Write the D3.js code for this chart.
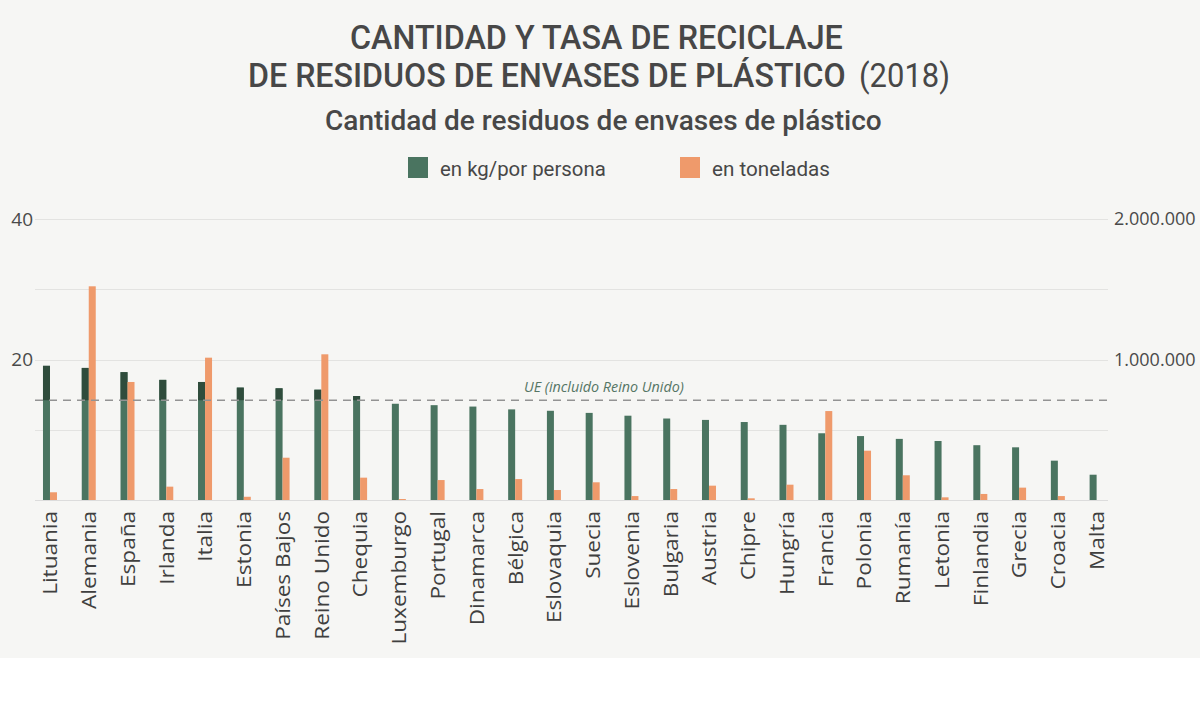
<!DOCTYPE html>
<html>
<head>
<meta charset="utf-8">
<script src="https://cdn.jsdelivr.net/npm/d3@7"></script>
<style>
  html, body { margin: 0; padding: 0; background: #ffffff; }
  svg { display: block; }
</style>
</head>
<body>
<svg id="chart" width="1200" height="703"></svg>
<script>
// ---------- DATA ----------
const countries = ["Lituania","Alemania","España","Irlanda","Italia","Estonia","Países Bajos","Reino Unido","Chequia","Luxemburgo","Portugal","Dinamarca","Bélgica","Eslovaquia","Suecia","Eslovenia","Bulgaria","Austria","Chipre","Hungría","Francia","Polonia","Rumanía","Letonia","Finlandia","Grecia","Croacia","Malta"];
const kgPerPerson = [19.1,18.8,18.2,17.1,16.8,16.0,15.9,15.7,14.8,13.7,13.5,13.3,12.9,12.7,12.4,12.0,11.6,11.4,11.1,10.7,9.5,9.1,8.7,8.4,7.8,7.5,5.6,3.6];
const tonnes = [55000,1521000,840000,95000,1013000,23000,301000,1037000,159000,7000,142000,78000,149000,71000,126000,28000,78000,102000,12000,109000,633000,351000,176000,19000,43000,88000,28000,0];
const euAverage = 14.2;
const leftTicks = [40, 20];
const rightTicks = [2000000, 1000000];
const gridTicks = [0, 10, 20, 30, 40];
const seriesNames = ["en kg/por persona", "en toneladas"];

// ---------- LAYOUT ----------
const svg = d3.select("#chart");
const W = 1200, H = 703;
const bg = "#f6f6f4";
const green = "#4a7460", greenDark = "#2f4c3c", orange = "#ef9a6b";
const textCol = "#474747";

svg.append("rect").attr("x",0).attr("y",0).attr("width",W).attr("height",658).attr("fill",bg);

const y = d3.scaleLinear().domain([0,40]).range([500,219]);
const yR = d3.scaleLinear().domain([0,2000000]).range([500,219]);
const x = d3.scaleBand().domain(countries).range([30.6,1116]).paddingInner(0).paddingOuter(0);
const bw = 7;
const gridX0 = 35, gridX1 = 1108;

// helper: place text with its left edge at x0 and stretch/shrink horizontally to width w
function fitText(sel, x0, y0, w) {
  const len = sel.node().getComputedTextLength();
  sel.attr("x",0).attr("y",0).attr("text-anchor","start")
     .attr("transform",`translate(${x0},${y0}) scale(${w/len},1)`);
}

// Title
const title = svg.append("g").attr("font-family","Roboto, sans-serif").attr("fill",textCol);
fitText(title.append("text").attr("font-size",34).attr("font-weight",500)
  .text("CANTIDAD Y TASA DE RECICLAJE"), 350, 49, 493);
fitText(title.append("text").attr("font-size",34).attr("font-weight",500)
  .text("DE RESIDUOS DE ENVASES DE PLÁSTICO"), 248, 87, 598);
fitText(title.append("text").attr("font-size",34).attr("font-weight",400)
  .text("(2018)"), 859, 87, 91);
fitText(title.append("text").attr("font-size",27).attr("font-weight",500)
  .text("Cantidad de residuos de envases de plástico"), 325, 130, 557);

// Legend
const legend = svg.append("g").attr("font-family","Roboto, sans-serif").attr("fill",textCol).attr("font-size",21);
const legItems = [
  {name: seriesNames[0], color: green, x: 408, tl: 166},
  {name: seriesNames[1], color: orange, x: 680, tl: 118}
];
legItems.forEach(d => {
  legend.append("rect").attr("x",d.x).attr("y",157).attr("width",20).attr("height",21).attr("fill",d.color);
  fitText(legend.append("text").text(d.name), d.x+32, 176, d.tl);
});

// Grid
const grid = svg.append("g");
grid.selectAll("line").data(gridTicks).join("line")
  .attr("x1",gridX0).attr("x2",gridX1)
  .attr("y1",d=>Math.round(y(d))+0.5).attr("y2",d=>Math.round(y(d))+0.5)
  .attr("stroke",d=> d===0 ? "#dcdcdc" : "#e3e3e1").attr("stroke-width",1.2);

// Axes labels (left / right)
const axisFont = "'Open Sans', sans-serif";
const leftAxis = d3.axisLeft(y).tickValues(leftTicks).tickSize(0).tickPadding(0).tickFormat(d3.format("d"));
const gL = svg.append("g").attr("transform","translate(33,0)").call(leftAxis);
gL.select(".domain").remove();
gL.selectAll("text").attr("font-family",axisFont).attr("font-size",19).attr("fill","#4a4a4a");

const fmtDots = d => d3.format(",")(d).replace(/,/g,".");
const rightAxis = d3.axisRight(yR).tickValues(rightTicks).tickSize(0).tickPadding(0).tickFormat(fmtDots);
const gR = svg.append("g").attr("transform","translate(1114,0)").call(rightAxis);
gR.select(".domain").remove();
gR.selectAll("text").attr("font-family",axisFont).attr("font-size",18).attr("fill","#4a4a4a");

// Clip for darker part above EU line
const defs = svg.append("defs");
defs.append("clipPath").attr("id","aboveEU").append("rect")
  .attr("x",0).attr("y",0).attr("width",W).attr("height",y(euAverage));

const data = countries.map((c,i)=>({c, kg:kgPerPerson[i], t:tonnes[i]}));
const cx = d => x(d.c) + x.bandwidth()/2;

// green bars
svg.append("g").selectAll("rect").data(data).join("rect")
  .attr("x",d=>cx(d)-bw).attr("width",bw)
  .attr("y",d=>y(d.kg)).attr("height",d=>y(0)-y(d.kg))
  .attr("fill",green);
svg.append("g").attr("clip-path","url(#aboveEU)").selectAll("rect").data(data).join("rect")
  .attr("x",d=>cx(d)-bw).attr("width",bw)
  .attr("y",d=>y(d.kg)).attr("height",d=>y(0)-y(d.kg))
  .attr("fill",greenDark);
// orange bars
svg.append("g").selectAll("rect").data(data).join("rect")
  .attr("x",d=>cx(d)).attr("width",bw)
  .attr("y",d=>yR(d.t)).attr("height",d=>yR(0)-yR(d.t))
  .attr("fill",orange);

// EU dashed line
svg.append("line").attr("x1",gridX0).attr("x2",gridX1+3)
  .attr("y1",y(euAverage)).attr("y2",y(euAverage))
  .attr("stroke","#939393").attr("stroke-width",1.3).attr("stroke-dasharray","8,6");
fitText(svg.append("text")
  .attr("font-family",axisFont).attr("font-style","italic").attr("font-size",15)
  .attr("fill","#557565")
  .text("UE (incluido Reino Unido)"), 524, 392, 160);

// X labels
const xAxis = d3.axisBottom(x).tickSize(0).tickPadding(0);
const gX = svg.append("g").attr("transform","translate(0,511)").call(xAxis);
gX.select(".domain").remove();
gX.selectAll("text")
  .attr("font-family",axisFont).attr("font-size",20.5).attr("fill","#3f3f3f")
  .attr("transform","rotate(-90) scale(1.1,1)").attr("text-anchor","end")
  .attr("x",0).attr("y",0).attr("dy","0.36em");
</script>
</body>
</html>
